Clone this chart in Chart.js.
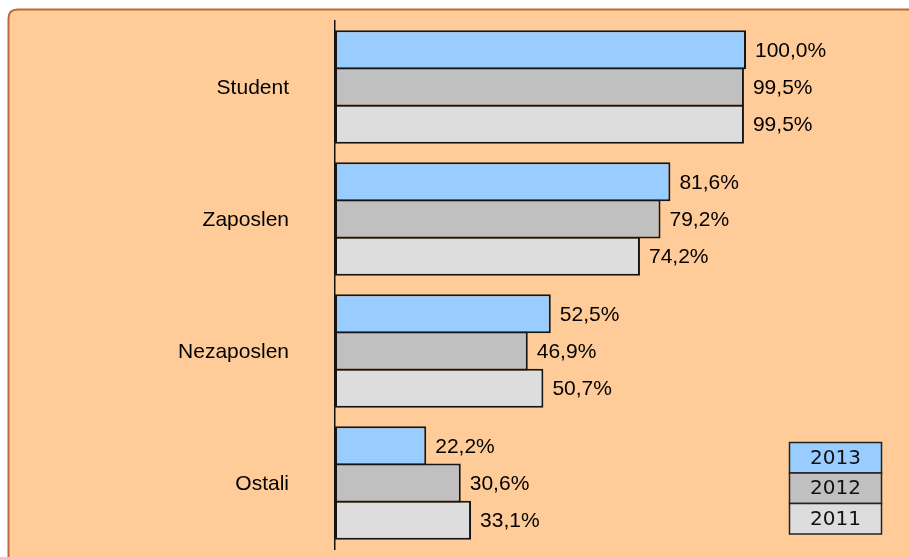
<!DOCTYPE html>
<html>
<head>
<meta charset="utf-8">
<script src="https://cdn.jsdelivr.net/npm/chart.js@4/dist/chart.umd.min.js"></script>
<style>
  html, body { margin: 0; padding: 0; background: #ffffff; }
  #wrap { width: 909px; height: 557px; position: relative; }
</style>
</head>
<body>
<div id="wrap"><canvas id="c" width="909" height="557"></canvas></div>
<script>
const categories = ["Student", "Zaposlen", "Nezaposlen", "Ostali"];
const seriesNames = ["2013", "2012", "2011"];
const values2013 = [100.0, 81.6, 52.5, 22.2];
const values2012 = [99.5, 79.2, 46.9, 30.6];
const values2011 = [99.5, 74.2, 50.7, 33.1];
const seriesColors = ["#99ccff", "#c0c0c0", "#dddddd"];

const backgroundPlugin = {
  id: 'bgPanel',
  beforeDraw(chart) {
    const ctx = chart.ctx;
    ctx.save();
    ctx.fillStyle = '#ffffff';
    ctx.fillRect(0, 0, chart.width, chart.height);
    const x = 8.5, y = 9.5, w = chart.width + 20, h = chart.height + 20, r = 9;
    ctx.beginPath();
    ctx.moveTo(x + r, y);
    ctx.lineTo(x + w, y);
    ctx.lineTo(x + w, y + h);
    ctx.lineTo(x, y + h);
    ctx.lineTo(x, y + r);
    ctx.quadraticCurveTo(x, y, x + r, y);
    ctx.closePath();
    ctx.fillStyle = '#ffcc99';
    ctx.fill();
    ctx.lineWidth = 2;
    ctx.strokeStyle = '#bf6a35';
    ctx.stroke();
    ctx.restore();
  }
};

const categoryLabelPlugin = {
  id: 'categoryLabels',
  afterDraw(chart) {
    const ctx = chart.ctx;
    const yScale = chart.scales.y;
    ctx.save();
    ctx.font = '21px "Liberation Sans", Arial, sans-serif';
    ctx.fillStyle = '#000000';
    ctx.textAlign = 'right';
    ctx.textBaseline = 'middle';
    chart.data.labels.forEach((lab, i) => {
      ctx.fillText(lab, yScale.right - 46, yScale.getPixelForValue(i) + 1);
    });
    ctx.restore();
  }
};

const valueLabelPlugin = {
  id: 'valueLabels',
  afterDatasetsDraw(chart) {
    const ctx = chart.ctx;
    ctx.save();
    ctx.font = '21px "Liberation Sans", Arial, sans-serif';
    ctx.fillStyle = '#000000';
    ctx.textAlign = 'left';
    ctx.textBaseline = 'middle';
    chart.data.datasets.forEach((ds, di) => {
      const meta = chart.getDatasetMeta(di);
      meta.data.forEach((bar, i) => {
        const v = ds.data[i];
        const txt = v.toFixed(1).replace('.', ',') + '%';
        ctx.fillText(txt, bar.x + 9, bar.y + 1);
      });
    });
    ctx.restore();
  }
};

const tableLegendPlugin = {
  id: 'tableLegend',
  afterDraw(chart) {
    const ctx = chart.ctx;
    const x0 = 789.5, y0 = 442.5, w = 92, rowH = 30.5;
    ctx.save();
    ctx.font = '20px "DejaVu Sans", sans-serif';
    ctx.textAlign = 'center';
    ctx.textBaseline = 'middle';
    chart.data.datasets.forEach((ds, i) => {
      const y = y0 + i * rowH;
      ctx.fillStyle = ds.backgroundColor;
      ctx.fillRect(x0, y, w, rowH);
      ctx.lineWidth = 1.5;
      ctx.strokeStyle = '#222222';
      ctx.strokeRect(x0, y, w, rowH);
      ctx.fillStyle = '#111111';
      ctx.fillText(ds.label, x0 + w / 2, y + rowH / 2 + 1);
    });
    ctx.restore();
  }
};

const datasetValues = [values2013, values2012, values2011];

new Chart(document.getElementById('c'), {
  type: 'bar',
  data: {
    labels: categories,
    datasets: seriesNames.map((name, i) => ({
      label: name,
      data: datasetValues[i],
      backgroundColor: seriesColors[i],
      borderColor: '#151515',
      borderWidth: 2,
      borderSkipped: false,
      categoryPercentage: 0.845,
      barPercentage: 1.05
    }))
  },
  options: {
    indexAxis: 'y',
    responsive: false,
    animation: false,
    devicePixelRatio: 1,
    layout: { padding: { left: 0, right: 163, top: 21, bottom: 8 } },
    plugins: {
      legend: { display: false },
      tooltip: { enabled: false },
      title: { display: false }
    },
    scales: {
      x: {
        display: false,
        min: 0,
        max: 100
      },
      y: {
        afterFit(scale) { scale.width = 335; },
        grid: { display: false, drawTicks: false },
        border: { display: true, color: '#111111', width: 1.5 },
        ticks: { display: false }
      }
    }
  },
  plugins: [backgroundPlugin, valueLabelPlugin, categoryLabelPlugin, tableLegendPlugin]
});
</script>
</body>
</html>
